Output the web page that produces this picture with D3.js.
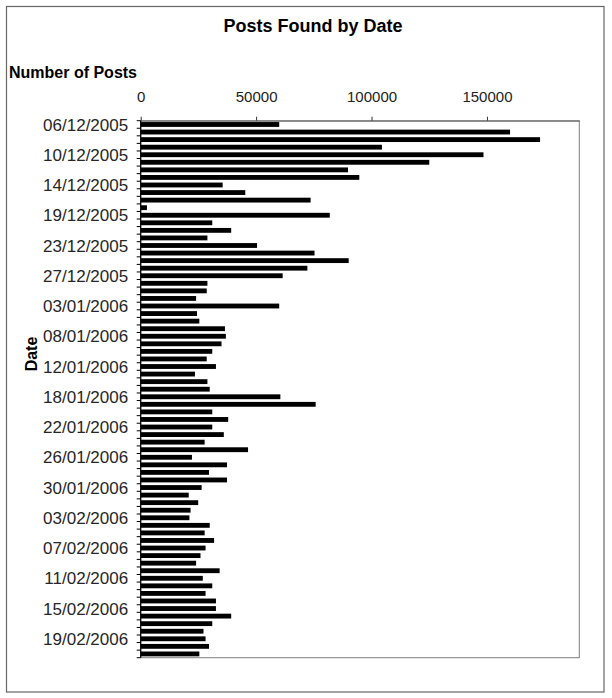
<!DOCTYPE html>
<html>
<head>
<meta charset="utf-8">
<script src="https://cdn.jsdelivr.net/npm/d3@7"></script>
<style>
  html, body { margin: 0; padding: 0; background: #fff; }
  svg { display: block; font-family: "Liberation Sans", Arial, sans-serif; }
</style>
</head>
<body>
<div id="chart"></div>
<script>
// ---- data ----
const dates = [
  "06/12/2005","07/12/2005","08/12/2005","09/12/2005","10/12/2005","11/12/2005","12/12/2005","13/12/2005",
  "14/12/2005","15/12/2005","16/12/2005","17/12/2005","19/12/2005","20/12/2005","21/12/2005","22/12/2005",
  "23/12/2005","24/12/2005","25/12/2005","26/12/2005","27/12/2005","28/12/2005","29/12/2005","30/12/2005",
  "03/01/2006","04/01/2006","05/01/2006","06/01/2006","08/01/2006","09/01/2006","10/01/2006","11/01/2006",
  "12/01/2006","13/01/2006","14/01/2006","15/01/2006","18/01/2006","19/01/2006","20/01/2006","21/01/2006",
  "22/01/2006","23/01/2006","24/01/2006","25/01/2006","26/01/2006","27/01/2006","28/01/2006","29/01/2006",
  "30/01/2006","31/01/2006","01/02/2006","02/02/2006","03/02/2006","04/02/2006","05/02/2006","06/02/2006",
  "07/02/2006","08/02/2006","09/02/2006","10/02/2006","11/02/2006","12/02/2006","13/02/2006","14/02/2006",
  "15/02/2006","16/02/2006","17/02/2006","18/02/2006","19/02/2006","20/02/2006","21/02/2006"
];
const posts = [
  60000,160000,173000,104500,148500,125000,89800,94700,
  35500,45300,73600,2700,81900,31000,39200,28900,
  50400,75300,90100,72200,61500,28900,28600,24000,
  60000,24400,25400,36500,36900,35000,31000,28600,
  32600,23500,28900,29900,60500,75800,31000,37900,
  31000,36000,27700,46500,22200,37400,29600,37400,
  26400,20800,24900,21600,21100,29900,27700,31800,
  28100,25900,24000,34200,26900,31000,28100,32600,
  32600,39200,31000,27200,28100,29600,25400
];
const valueTicks = [0, 50000, 100000, 150000];
const valueMax = 190000;
const labelEvery = 4;

const title = "Posts Found by Date";
const valueTitle = "Number of Posts";
const categoryTitle = "Date";

// ---- layout ----
const W = 612, H = 698;
const plot = { left: 140.7, right: 579.3, top: 120.7, bottom: 657.7 };

const svg = d3.select("#chart").append("svg")
  .attr("width", W).attr("height", H);

svg.append("rect").attr("width", W).attr("height", H).attr("fill", "#fff");

// outer chart frame
svg.append("rect")
  .attr("x", 6.5).attr("y", 6.5).attr("width", 597.5).attr("height", 685.5)
  .attr("fill", "none").attr("stroke", "#666").attr("stroke-width", 1.2);

const x = d3.scaleLinear().domain([0, valueMax]).range([plot.left, plot.right]);
const y = d3.scaleBand().domain(dates).range([plot.top, plot.bottom])
  .paddingInner(0.36).paddingOuter(0.18);

// plot area border
svg.append("rect")
  .attr("x", plot.left).attr("y", plot.top)
  .attr("width", plot.right - plot.left).attr("height", plot.bottom - plot.top)
  .attr("fill", "#fff").attr("stroke", "#7f7f7f").attr("stroke-width", 1);

// bars
svg.append("g").selectAll("rect")
  .data(dates.map((d, i) => ({ date: d, value: posts[i] })))
  .join("rect")
  .attr("x", x(0))
  .attr("y", d => y(d.date))
  .attr("width", d => x(d.value) - x(0))
  .attr("height", y.bandwidth())
  .attr("fill", "#000");

// value axis (top)
const xAxis = d3.axisTop(x).tickValues(valueTicks).tickFormat(d3.format("d"))
  .tickSizeInner(4).tickSizeOuter(0).tickPadding(15);
const gx = svg.append("g").attr("transform", `translate(0,${plot.top})`).call(xAxis);
gx.select(".domain").attr("stroke", "#666");
gx.selectAll(".tick line").attr("stroke", "#333");
gx.selectAll(".tick text").attr("font-size", 15).attr("fill", "#222")
  .attr("font-family", "Liberation Sans, Arial, sans-serif");

// category axis (left)
const step = y.step();
const boundaries = d3.range(dates.length + 1).map(i => plot.top + i * step);
const gy = svg.append("g");
gy.append("line")
  .attr("x1", plot.left).attr("x2", plot.left)
  .attr("y1", plot.top).attr("y2", plot.bottom)
  .attr("stroke", "#000").attr("stroke-width", 1.2);
gy.selectAll("line.ctick").data(boundaries).join("line")
  .attr("class", "ctick")
  .attr("x1", plot.left - 4).attr("x2", plot.left)
  .attr("y1", d => d).attr("y2", d => d)
  .attr("stroke", "#000").attr("stroke-width", 1);

const yAxis = d3.axisLeft(y)
  .tickValues(dates.filter((d, i) => i % labelEvery === 0))
  .tickSize(0).tickPadding(12.5);
const gyl = svg.append("g").attr("transform", `translate(${plot.left},0)`).call(yAxis);
gyl.select(".domain").remove();
gyl.selectAll(".tick text").attr("font-size", 17).attr("fill", "#262626")
  .attr("dy", "0.36em")
  .attr("font-family", "Liberation Sans, Arial, sans-serif");

// titles
svg.append("text")
  .attr("x", 313).attr("y", 32)
  .attr("text-anchor", "middle")
  .attr("font-size", 18).attr("font-weight", "bold").attr("fill", "#000")
  .text(title);

svg.append("text")
  .attr("x", 9).attr("y", 78.3)
  .attr("font-size", 16).attr("font-weight", "bold").attr("fill", "#000")
  .text(valueTitle);

svg.append("text")
  .attr("transform", `translate(37,354) rotate(-90)`)
  .attr("text-anchor", "middle")
  .attr("font-size", 16).attr("font-weight", "bold").attr("fill", "#000")
  .text(categoryTitle);
</script>
</body>
</html>
